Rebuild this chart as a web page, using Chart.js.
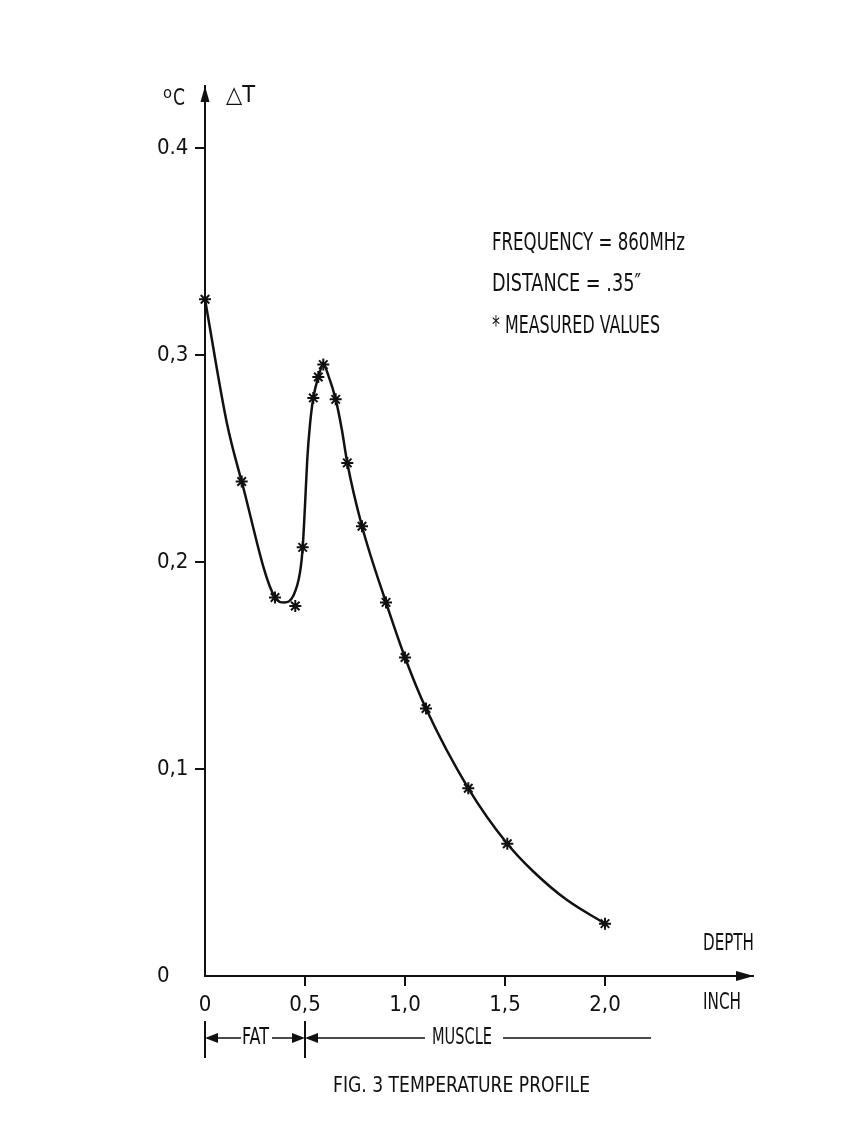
<!DOCTYPE html>
<html>
<head>
<meta charset="utf-8">
<script src="https://cdn.jsdelivr.net/npm/chart.js@4"></script>
<style>
  html, body { margin: 0; padding: 0; background: #fff; }
  #wrap { width: 848px; height: 1131px; }
</style>
</head>
<body>
<div id="wrap"><canvas id="grafico" width="848" height="1131"></canvas></div>
<script>
// 1. Datos
const curvaX = [0, 0.1085, 0.1835, 0.35, 0.3965, 0.4415, 0.475, 0.4885, 0.50, 0.5115, 0.525, 0.5415, 0.5665, 0.5915, 0.6165, 0.6535, 0.6835, 0.7115, 0.785, 0.905, 1.0, 1.105, 1.3165, 1.5115, 1.6415, 1.8085, 2.0];
const curvaY = [0.327, 0.2676, 0.2389, 0.1829, 0.1805, 0.1837, 0.1950, 0.2071, 0.2273, 0.2499, 0.2665, 0.2793, 0.2894, 0.2954, 0.2902, 0.2786, 0.2644, 0.2479, 0.2173, 0.1805, 0.1539, 0.1292, 0.0907, 0.0639, 0.0505, 0.0368, 0.0253];
const medidosX = [0, 0.1835, 0.35, 0.4515, 0.4885, 0.5415, 0.5665, 0.5915, 0.6535, 0.7115, 0.785, 0.905, 1.0, 1.105, 1.3165, 1.5115, 2.0];
const medidosY = [0.327, 0.2389, 0.1829, 0.1788, 0.2071, 0.2793, 0.2894, 0.2954, 0.2786, 0.2479, 0.2173, 0.1805, 0.1539, 0.1292, 0.0907, 0.0639, 0.0253];
const ticksX = [0, 0.5, 1.0, 1.5, 2.0];
const etiquetasX = ["0", "0,5", "1,0", "1,5", "2,0"];
const ticksY = [0, 0.1, 0.2, 0.3, 0.4];
const etiquetasY = ["0", "0,1", "0,2", "0,3", "0.4"];

const FUENTE = "'DejaVu Sans Condensed', 'Liberation Sans Narrow', 'DejaVu Sans', sans-serif";
const TINTA = "#111";

// ---- FUNCIONES ----
function texto(ctx, str, x, y, size, ancho, centrado) {
  ctx.save();
  ctx.font = size + "px " + FUENTE;
  ctx.fillStyle = TINTA;
  ctx.textBaseline = "middle";
  ctx.textAlign = "left";
  const w = ctx.measureText(str).width;
  const k = ancho ? ancho / w : 1;
  ctx.translate(x, y);
  ctx.scale(k, 1);
  ctx.fillText(str, centrado ? -w / 2 : 0, 0);
  ctx.restore();
}

function flecha(ctx, x, y, dir, largo, medio) {
  // dir: "up" | "right" | "left"
  ctx.beginPath();
  ctx.moveTo(x, y);
  if (dir === "up") {
    ctx.lineTo(x - medio, y + largo);
    ctx.lineTo(x + medio, y + largo);
  } else if (dir === "right") {
    ctx.lineTo(x - largo, y - medio);
    ctx.lineTo(x - largo, y + medio);
  } else {
    ctx.lineTo(x + largo, y - medio);
    ctx.lineTo(x + largo, y + medio);
  }
  ctx.closePath();
  ctx.fill();
}

function linea(ctx, x1, y1, x2, y2, ancho) {
  ctx.beginPath();
  ctx.lineWidth = ancho;
  ctx.moveTo(x1, y1);
  ctx.lineTo(x2, y2);
  ctx.stroke();
}

// 2. Plugin de anotaciones (flechas de ejes, textos, FAT / MUSCLE)
const anotaciones = {
  id: "anotaciones",
  afterDraw(chart) {
    const ctx = chart.ctx;
    const area = chart.chartArea;
    const sx = chart.scales.x;
    const x0 = sx.getPixelForValue(0);
    const x05 = sx.getPixelForValue(0.5);
    ctx.save();
    ctx.fillStyle = TINTA;
    ctx.strokeStyle = TINTA;

    // ejes con flecha
    linea(ctx, area.right - 10, area.bottom, area.right + 2, area.bottom, 2);
    flecha(ctx, area.left, area.top, "up", 16, 4.5);
    flecha(ctx, area.right + 2, area.bottom, "right", 18, 5);

    // unidades
    texto(ctx, "o", 163, 94, 16, 9);
    texto(ctx, "C", 173, 99, 23, 12);
    texto(ctx, "\u25B3T", 226, 96, 23, 29);
    texto(ctx, "DEPTH", 703, 944, 23, 51);
    texto(ctx, "INCH", 703, 1003, 23, 38);

    // leyenda
    texto(ctx, "FREQUENCY = 860MHz", 492, 243, 25, 193);
    texto(ctx, "DISTANCE = .35\u2033", 492, 284, 25, 149);
    texto(ctx, "* MEASURED VALUES", 492, 326, 25, 168);

    // FAT / MUSCLE
    const yb = 1038;
    linea(ctx, x0, 1021, x0, 1058, 2);
    linea(ctx, x05, 1021, x05, 1058, 2);
    flecha(ctx, x0, yb, "left", 13, 5);
    linea(ctx, x0 + 10, yb, x0 + 36, yb, 1.5);
    texto(ctx, "FAT", x0 + 37, yb, 23, 27);
    linea(ctx, x0 + 67, yb, x05 - 8, yb, 1.5);
    flecha(ctx, x05, yb, "right", 13, 5);
    flecha(ctx, x05, yb, "left", 13, 5);
    linea(ctx, x05 + 10, yb, 425, yb, 1.5);
    texto(ctx, "MUSCLE", 432, yb, 23, 60);
    linea(ctx, 503, yb, 651, yb, 1.5);

    // titulo
    texto(ctx, "FIG. 3 TEMPERATURE PROFILE", 333, 1086, 22, 257);
    ctx.restore();
  },
};

document.addEventListener("DOMContentLoaded", () => {
  // 3. Grafico
  const ctx = document.getElementById("grafico").getContext("2d");
  const sinCero = (c) => (c.tick && c.tick.value === 0 ? "rgba(0,0,0,0)" : TINTA);

  new Chart(ctx, {
    type: "scatter",
    data: {
      datasets: [
        {
          type: "line",
          data: curvaX.map((x, i) => ({ x: x, y: curvaY[i] })),
          borderColor: TINTA,
          borderWidth: 2.5,
          pointRadius: 0,
          cubicInterpolationMode: "monotone",
          fill: false,
          clip: false,
        },
        {
          data: medidosX.map((x, i) => ({ x: x, y: medidosY[i] })),
          pointStyle: "star",
          pointRadius: 6,
          borderColor: TINTA,
          backgroundColor: TINTA,
          borderWidth: 2,
          clip: false,
        },
      ],
    },
    options: {
      responsive: false,
      animation: false,
      devicePixelRatio: 1,
      layout: { padding: { left: 157, top: 86, right: 96, bottom: 100 } },
      plugins: { legend: { display: false }, tooltip: { enabled: false } },
      scales: {
        x: {
          type: "linear",
          min: 0,
          max: 2.735,
          afterFit: (s) => { s.height = 55; },
          afterBuildTicks: (s) => { s.ticks = ticksX.map((v) => ({ value: v })); },
          ticks: {
            callback: (v, i) => etiquetasX[i],
            color: TINTA,
            font: { family: FUENTE, size: 22 },
            padding: 6,
            maxRotation: 0,
            autoSkip: false,
          },
          grid: { drawOnChartArea: false, tickLength: 10, color: sinCero, lineWidth: 2 },
          border: { color: TINTA, width: 2 },
        },
        y: {
          type: "linear",
          min: 0,
          max: 0.43,
          afterFit: (s) => { s.width = 48; },
          afterBuildTicks: (s) => { s.ticks = ticksY.map((v) => ({ value: v })); },
          ticks: {
            callback: (v, i) => etiquetasY[i],
            color: TINTA,
            font: { family: FUENTE, size: 22 },
            crossAlign: "far",
            padding: 6,
            autoSkip: false,
          },
          grid: { drawOnChartArea: false, tickLength: 10, color: sinCero, lineWidth: 2 },
          border: { color: TINTA, width: 2 },
        },
      },
    },
    plugins: [anotaciones],
  });
});
</script>
</body>
</html>
